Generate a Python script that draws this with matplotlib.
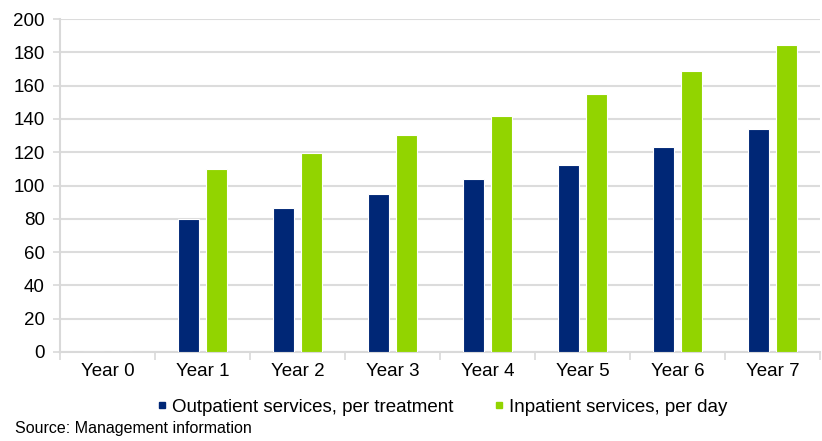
import numpy as np
import matplotlib.pyplot as plt
from matplotlib.lines import Line2D

plt.rcParams['font.family'] = ['Liberation Sans', 'DejaVu Sans']

years = ['Year 0', 'Year 1', 'Year 2', 'Year 3', 'Year 4', 'Year 5', 'Year 6', 'Year 7']
outpatient = [0, 80, 86.3, 95, 103.7, 112.3, 123, 133.8]
inpatient = [0, 110, 119.5, 130.3, 142, 155, 169, 184.2]

blue = '#002776'
green = '#92d400'

fig = plt.figure(figsize=(8.22, 4.41), dpi=100)
ax = fig.add_axes([60/822, 89/441, 760/822, 333/441])

x = np.arange(len(years))
w = 0.215
ax.bar(x - 0.04 - w/2, outpatient, w, color=blue, edgecolor='white', linewidth=0.8, zorder=3)
ax.bar(x + 0.04 + w/2, inpatient, w, color=green, edgecolor='white', linewidth=0.8, zorder=3)

ax.set_xlim(-0.5, len(years) - 0.5)
ax.set_ylim(0, 200)
ax.set_yticks(np.arange(0, 201, 20))
ax.set_xticks(x)
ax.set_xticklabels(years)
ax.set_xticks(np.arange(-0.5, len(years), 1), minor=True)
ax.tick_params(axis='x', which='major', length=0, pad=8, labelsize=13.5)
ax.tick_params(axis='x', which='minor', length=6, color='#d9d9d9', width=1.2)
ax.tick_params(axis='y', length=5, color='#d9d9d9', width=1.2, pad=6, labelsize=13.5)
ax.grid(axis='y', color='#dcdcdc', linewidth=1.5, zorder=0)

for s in ['top', 'right']:
    ax.spines[s].set_visible(False)
for s in ['left', 'bottom']:
    ax.spines[s].set_color('#d9d9d9')
    ax.spines[s].set_linewidth(1.5)

handles = [Line2D([], [], marker='s', linestyle='none', color=blue, markersize=5),
           Line2D([], [], marker='s', linestyle='none', color=green, markersize=5)]
fig.legend(handles, ['Outpatient services, per treatment', 'Inpatient services, per day'],
           loc='center', bbox_to_anchor=(440/822, 1 - 407/441), ncol=2, frameon=False,
           fontsize=13.5, handletextpad=0.05, columnspacing=1.9, handlelength=1)

fig.text(15/822, 1 - 428/441, 'Source: Management information', fontsize=11.5, va='center')

fig.savefig('out.png', dpi=100)
